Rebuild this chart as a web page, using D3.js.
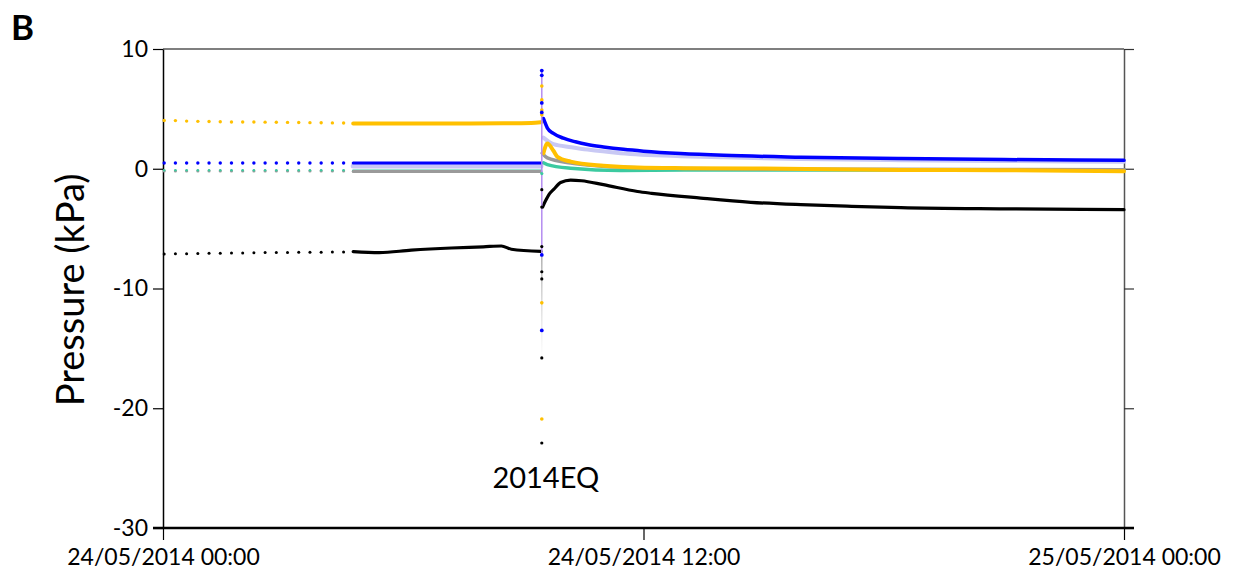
<!DOCTYPE html>
<html>
<head>
<meta charset="utf-8">
<script src="https://cdn.jsdelivr.net/npm/d3@7"></script>
<style>
  body { margin: 0; background: #fff; }
  svg { display: block; }
  text { font-family: Lato, "Open Sans", sans-serif; fill: #000; }
</style>
</head>
<body>
<svg id="chart" width="1234" height="575"></svg>
<script>
// ---- data (time in hours after 24/05/2014 00:00, pressure in kPa) ----
const xTickLabels = ["24/05/2014 00:00", "24/05/2014 12:00", "25/05/2014 00:00"];
const xTickHours = [0, 12, 24];
const yTicks = [10, 0, -10, -20, -30];
const eqHour = 9.46;
const eqLabel = "2014EQ";

// sparse early samples (drawn as dots)
const preHours = [0.03, 0.31, 0.59, 0.87, 1.15, 1.43, 1.71, 1.99, 2.27, 2.55, 2.83, 3.11, 3.39, 3.67, 3.95, 4.23, 4.51];
const preYellow = [4.03, 4.02, 3.98, 3.96, 3.94, 3.92, 3.91, 3.9, 3.9, 3.89, 3.88, 3.87, 3.86, 3.85, 3.84, 3.83, 3.82];
const preBlue = [0.48, 0.48, 0.48, 0.48, 0.48, 0.48, 0.48, 0.48, 0.48, 0.48, 0.48, 0.48, 0.48, 0.48, 0.48, 0.48, 0.48];
const preGreen = [-0.18, -0.18, -0.18, -0.18, -0.18, -0.18, -0.18, -0.18, -0.18, -0.18, -0.18, -0.18, -0.18, -0.18, -0.18, -0.18, -0.18];
const preBlack = [-7.12, -7.1, -7.1, -7.07, -7.06, -7.05, -7.04, -7.03, -7.02, -7.0, -7.0, -6.99, -6.98, -6.97, -6.97, -6.96, -6.96];

// continuous records before the earthquake [hour, kPa]
const yellowBefore = [[4.75, 3.77], [6.5, 3.78], [8.5, 3.8], [9.2, 3.83], [9.44, 3.88]];
const blueBefore = [[4.75, 0.47], [9.44, 0.47]];
const lavenderBefore = [[4.75, 0.22], [9.44, 0.22]];
const grayBefore = [[4.75, -0.22], [9.44, -0.22]];
const greenBefore = [[4.75, -0.16], [9.44, -0.16]];
const blackBefore = [[4.75, -6.92], [5.4, -7.0], [6.2, -6.8], [7.2, -6.62], [8.0, -6.52], [8.45, -6.45], [8.7, -6.72], [9.44, -6.9]];

// continuous records after the earthquake [hour, kPa]
const blueAfter = [[9.5, 4.2], [9.6, 3.4], [9.75, 2.95], [10.0, 2.55], [10.3, 2.25], [10.6, 2.02], [11.0, 1.82], [11.5, 1.62], [12.0, 1.47], [12.93, 1.27], [14.0, 1.12], [15.93, 0.97], [18.43, 0.85], [21.0, 0.77], [24.0, 0.7]];
const lavenderAfter = [[9.5, 2.6], [9.75, 2.05], [10.2, 1.8], [10.6, 1.6], [11.43, 1.3], [12.93, 1.05], [14.0, 0.95], [15.93, 0.82], [18.43, 0.72], [21.0, 0.65], [24.0, 0.58]];
const grayAfter = [[9.47, 1.3], [9.6, 0.9], [10.18, 0.47], [11.0, 0.2], [12.0, 0.08], [14.0, 0.0], [18.0, -0.05], [24.0, -0.08]];
const greenAfter = [[9.5, 0.5], [9.6, 0.35], [10.18, 0.05], [11.43, -0.14], [13.0, -0.1], [24.0, -0.1]];
const yellowAfter = [[9.5, 1.3], [9.6, 2.1], [9.75, 1.5], [9.85, 1.0], [10.18, 0.6], [11.0, 0.25], [11.85, 0.1], [13.0, 0.05], [15.0, 0.02], [18.43, -0.1], [21.0, -0.12], [24.0, -0.2]];
const blackAfter = [[9.48, -3.2], [9.55, -2.7], [9.65, -2.1], [9.75, -1.75], [9.93, -1.15], [10.18, -0.95], [10.45, -1.0], [11.0, -1.33], [11.85, -1.9], [12.2, -2.05], [13.43, -2.45], [14.68, -2.8], [15.93, -3.0], [17.2, -3.14], [18.43, -3.25], [21.0, -3.35], [24.0, -3.42]];

// single readings at the moment of the earthquake
const blueSpike = [8.2, 7.8, 5.5, 4.7, -7.2, -13.5];
const yellowSpike = [6.9, 5.75, 4.9, 4.5, -11.2, -20.9];
const blackSpike = [-1.75, -3.2, -6.5, -8.6, -9.2, -15.8, -22.9];
const greenSpike = [-0.4];
const spikeTop = 8.2;
const spikeLow = -7.2;
const spikeTail = -16;

// ---- drawing ----
const colors = {
  yellow: "#ffc000", blue: "#0000ff", lavender: "#c9c9f4",
  gray: "#9a9a9a", green: "#3ccaa0", black: "#000000", violet: "#b48cf0"
};

const svg = d3.select("#chart");
const plot = { left: 163, right: 1124, top: 49, bottom: 528 };
const t0 = new Date(2014, 4, 24, 0, 0, 0);
const toDate = h => new Date(t0.getTime() + h * 3600e3);

const x = d3.scaleTime().domain([toDate(0), toDate(24)]).range([plot.left, plot.right]);
const y = d3.scaleLinear().domain([-30, 10]).range([plot.bottom, plot.top]);

const defs = svg.append("defs");
const fade = defs.append("linearGradient")
  .attr("id", "tailFade").attr("gradientUnits", "userSpaceOnUse")
  .attr("x1", 0).attr("x2", 0).attr("y1", y(spikeLow)).attr("y2", y(spikeTail));
fade.append("stop").attr("offset", 0).attr("stop-color", "#8a8a8a").attr("stop-opacity", 0.7);
fade.append("stop").attr("offset", 1).attr("stop-color", "#bbbbbb").attr("stop-opacity", 0);

// frame: top border
svg.append("line").attr("x1", plot.left).attr("x2", plot.right).attr("y1", y(10)).attr("y2", y(10))
  .attr("stroke", "#000").attr("stroke-width", 1.2);

// y axis on the left (plain hyphen for negatives)
const yAxis = svg.append("g").attr("transform", `translate(${plot.left},0)`)
  .call(d3.axisLeft(y).tickValues(yTicks).tickSize(10).tickSizeOuter(0).tickPadding(5).tickFormat(d => String(d)));
yAxis.select(".domain").attr("stroke", "#000").attr("stroke-width", 1.5);
yAxis.selectAll(".tick line").attr("stroke", "#000").attr("stroke-width", 1.2);
yAxis.selectAll("text").attr("font-size", 23).attr("font-family", "Lato").attr("fill", "#000");

// mirrored ticks on the right
const yAxisR = svg.append("g").attr("transform", `translate(${plot.right},0)`)
  .call(d3.axisRight(y).tickValues(yTicks).tickSize(10).tickSizeOuter(0).tickFormat(""));
yAxisR.select(".domain").attr("stroke", "#555").attr("stroke-width", 1.5);
yAxisR.selectAll(".tick line").attr("stroke", "#333").attr("stroke-width", 1.2);

// time axis
const xAxis = svg.append("g").attr("transform", `translate(0,${plot.bottom})`)
  .call(d3.axisBottom(x).tickValues(xTickHours.map(toDate)).tickSize(12).tickSizeOuter(0).tickPadding(9)
    .tickFormat((d, i) => xTickLabels[i]));
xAxis.select(".domain").attr("stroke", "#000").attr("stroke-width", 2.5)
  .attr("d", `M${plot.left - 10},0H${plot.right + 10}`);
xAxis.selectAll(".tick line").attr("stroke", "#000").attr("stroke-width", 1.2);
xAxis.selectAll("text").attr("font-size", 23).attr("font-family", "Lato").attr("fill", "#000");

// series lines
const line = d3.line().x(d => x(toDate(d[0]))).y(d => y(d[1])).curve(d3.curveMonotoneX);
const g = svg.append("g");
function drawLine(data, color, width) {
  g.append("path").datum(data).attr("d", line)
    .attr("fill", "none").attr("stroke", color).attr("stroke-width", width)
    .attr("stroke-linejoin", "round").attr("stroke-linecap", "round");
}
drawLine(lavenderBefore, colors.lavender, 5);
drawLine(lavenderAfter, colors.lavender, 4);
drawLine(greenBefore, colors.green, 2.5);
drawLine(greenAfter, colors.green, 3.5);
drawLine(grayBefore, colors.gray, 3);
drawLine(grayAfter, colors.gray, 3.5);
drawLine(yellowBefore, colors.yellow, 4);
drawLine(yellowAfter, colors.yellow, 4);
drawLine(blueBefore, colors.blue, 3);
drawLine(blueAfter, colors.blue, 3.5);
drawLine(blackBefore, colors.black, 3.2);
drawLine(blackAfter, colors.black, 3.2);

// vertical trace at the earthquake
const xe = x(toDate(eqHour));
g.append("line").attr("x1", xe).attr("x2", xe).attr("y1", y(spikeLow)).attr("y2", y(spikeTail))
  .attr("stroke", "url(#tailFade)").attr("stroke-width", 1.5);
g.append("line").attr("x1", xe).attr("x2", xe).attr("y1", y(spikeTop)).attr("y2", y(spikeLow))
  .attr("stroke", colors.violet).attr("stroke-width", 1.5);

// early sparse samples as dots
function drawDots(hours, values, color, r) {
  g.append("g").selectAll("circle").data(values).join("circle")
    .attr("cx", (d, i) => x(toDate(hours[i]))).attr("cy", d => y(d))
    .attr("r", r).attr("fill", color);
}
drawDots(preHours, preGreen, colors.gray, 1.6);
drawDots(preHours, preGreen.map(v => v + 0.05), colors.green, 1.2);
drawDots(preHours, preBlue, colors.blue, 1.7);
drawDots(preHours, preYellow, colors.yellow, 1.7);
drawDots(preHours, preBlack, colors.black, 1.5);

// readings taken at the earthquake instant
function drawSpike(values, color, r) {
  g.append("g").selectAll("circle").data(values).join("circle")
    .attr("cx", xe).attr("cy", d => y(d)).attr("r", r).attr("fill", color);
}
drawSpike(yellowSpike, colors.yellow, 1.8);
drawSpike(blueSpike, colors.blue, 1.9);
drawSpike(blackSpike, colors.black, 1.6);
drawSpike(greenSpike, colors.green, 1.6);

// labels
svg.append("text").attr("x", xe + 4).attr("y", 488).attr("text-anchor", "middle")
  .attr("font-size", 29).text(eqLabel);

svg.append("text").attr("transform", `translate(84,290) rotate(-90)`)
  .attr("text-anchor", "middle").attr("font-size", 38).text("Pressure (kPa)");

svg.append("text").attr("x", 11).attr("y", 40).attr("font-size", 35).attr("font-weight", 700).text("B");
</script>
</body>
</html>
